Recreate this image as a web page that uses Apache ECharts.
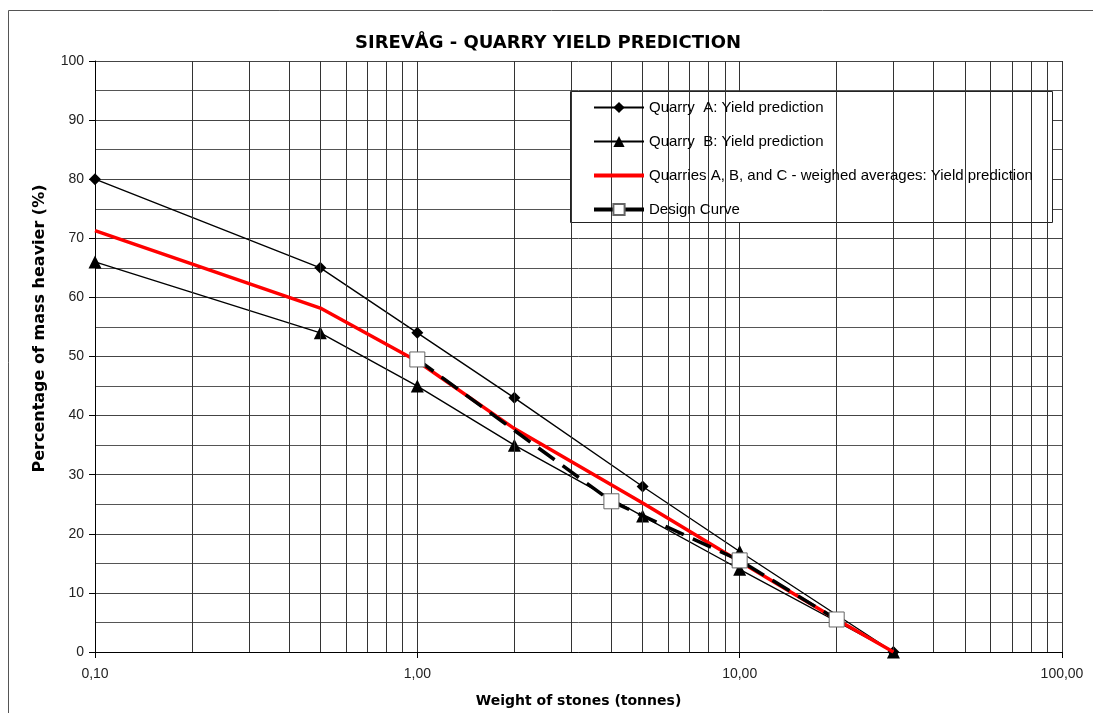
<!DOCTYPE html>
<html>
<head>
<meta charset="utf-8">
<script src="https://cdn.jsdelivr.net/npm/echarts@6/dist/echarts.min.js"></script>
<style>html,body{margin:0;padding:0;background:#fff}#c{width:1093px;height:713px}</style>
</head>
<body>
<div id="c"></div>
<script>
const weightsAB = [0.1, 0.5, 1, 2, 5, 10, 30];
const quarryA = [80, 65, 54, 43, 28, 17, 0];
const quarryB = [66, 54, 45, 35, 23, 14, 0];
const weightsAvg = [0.1, 0.5, 1, 2, 5, 10, 20, 30];
const average = [71.3, 58.2, 49.2, 37.8, 25.2, 15.3, 5.5, 0];
const weightsDesign = [1, 4, 10, 20];
const design = [49.5, 25.5, 15.5, 5.5];
const minorGridX = [0.2,0.3,0.4,0.5,0.6,0.7,0.8,0.9, 2,3,4,5,6,7,8,9, 20,30,40,50,60,70,80,90];
const seriesNames = ['Quarry  A: Yield prediction', 'Quarry  B: Yield prediction', 'Quarries A, B, and C - weighed averages: Yield prediction', 'Design Curve'];

const pair = (xs, ys) => xs.map((x, i) => [x, ys[i]]);
const FONT = "'Liberation Sans', Arial, sans-serif";
const BOLD = "'DejaVu Sans', sans-serif";

const chart = echarts.init(document.getElementById('c'));
chart.setOption({
  animation: false,
  backgroundColor: '#fff',
  textStyle: { fontFamily: FONT },
  title: {
    text: 'SIREVÅG - QUARRY YIELD PREDICTION',
    left: 350, top: 29,
    textStyle: { fontSize: 18, fontWeight: 'bold', color: '#000', fontFamily: BOLD }
  },
  graphic: [
    { type: 'rect', silent: true, z: -10, shape: { x: 8.5, y: 10.5, width: 1100, height: 720 }, style: { fill: null, stroke: '#555', lineWidth: 1 } },
    { type: 'rect', silent: true, z: 3, shape: { x: 570.5, y: 91.5, width: 482, height: 131 }, style: { fill: '#fff', stroke: '#222', lineWidth: 1 } }
  ],
  legend: {
    orient: 'vertical', left: 587, top: 95, z: 10,
    itemWidth: 50, itemHeight: 14, itemGap: 19,
    data: [
      { name: seriesNames[0], lineStyle: { width: 2 } },
      { name: seriesNames[1], lineStyle: { width: 2 } },
      { name: seriesNames[2], itemStyle: { opacity: 0 }, lineStyle: { width: 4 } },
      { name: seriesNames[3], lineStyle: { width: 4 } }
    ],
    textStyle: { fontSize: 15, color: '#000', fontFamily: FONT }
  },
  grid: { left: 95, right: 31, top: 61, bottom: 61 },
  xAxis: {
    type: 'log', logBase: 10, min: 0.1, max: 100,
    name: 'Weight of stones (tonnes)', nameLocation: 'middle', nameGap: 42,
    nameTextStyle: { fontSize: 14, fontWeight: 'bold', color: '#000', fontFamily: BOLD },
    axisLine: { lineStyle: { color: '#000', width: 1 } },
    axisTick: { show: true, length: 6, lineStyle: { color: '#000' } },
    axisLabel: { fontSize: 14, color: '#222', margin: 15, formatter: v => Number(v).toFixed(2).replace('.', ',') },
    splitLine: { show: true, lineStyle: { color: '#333', width: 1 } },
    minorTick: { show: false }
  },
  yAxis: {
    type: 'value', min: 0, max: 100, interval: 10,
    name: 'Percentage of mass heavier (%)', nameLocation: 'middle', nameGap: 47,
    nameTextStyle: { fontSize: 16, fontWeight: 'bold', color: '#000', fontFamily: BOLD, padding: [0, 0, 0, 56] },
    axisLine: { show: true, lineStyle: { color: '#000', width: 1 } },
    axisTick: { show: true, length: 6, lineStyle: { color: '#000' } },
    axisLabel: { fontSize: 14, color: '#222', margin: 11 },
    splitLine: { show: true, lineStyle: { color: '#444', width: 1 } },
    minorTick: { show: false, splitNumber: 2 },
    minorSplitLine: { show: true, lineStyle: { color: '#555', width: 1 } }
  },
  series: [
    {
      name: 'gridlines', type: 'line', data: [], z: 1, silent: true,
      markLine: {
        silent: true, symbol: 'none', label: { show: false },
        lineStyle: { color: '#333', width: 1, type: 'solid' },
        data: minorGridX.map(v => ({ xAxis: v }))
      }
    },
    {
      name: seriesNames[0], type: 'line', z: 4,
      data: pair(weightsAB, quarryA).map((p, i) => weightsAB[i] === 10 ? { value: p, symbol: 'triangle', symbolSize: 13 } : p),
      symbol: 'diamond', symbolSize: 12,
      lineStyle: { color: '#000', width: 1.4 },
      itemStyle: { color: '#000' }
    },
    {
      name: seriesNames[1], type: 'line', z: 4,
      data: pair(weightsAB, quarryB),
      symbol: 'triangle', symbolSize: 13,
      lineStyle: { color: '#000', width: 1.4 },
      itemStyle: { color: '#000' }
    },
    {
      name: seriesNames[2], type: 'line', z: 5,
      data: pair(weightsAvg, average),
      symbol: 'rect', showSymbol: false,
      lineStyle: { color: '#ff0000', width: 3.5 },
      itemStyle: { color: '#ff0000' }
    },
    {
      name: seriesNames[3], type: 'line', z: 6,
      data: pair(weightsDesign, design),
      symbol: 'rect', symbolSize: 15,
      lineStyle: { color: '#000', width: 3.5, type: [20, 10] },
      itemStyle: { color: '#fff', borderColor: '#666', borderWidth: 1 }
    }
  ]
});
</script>
</body>
</html>
